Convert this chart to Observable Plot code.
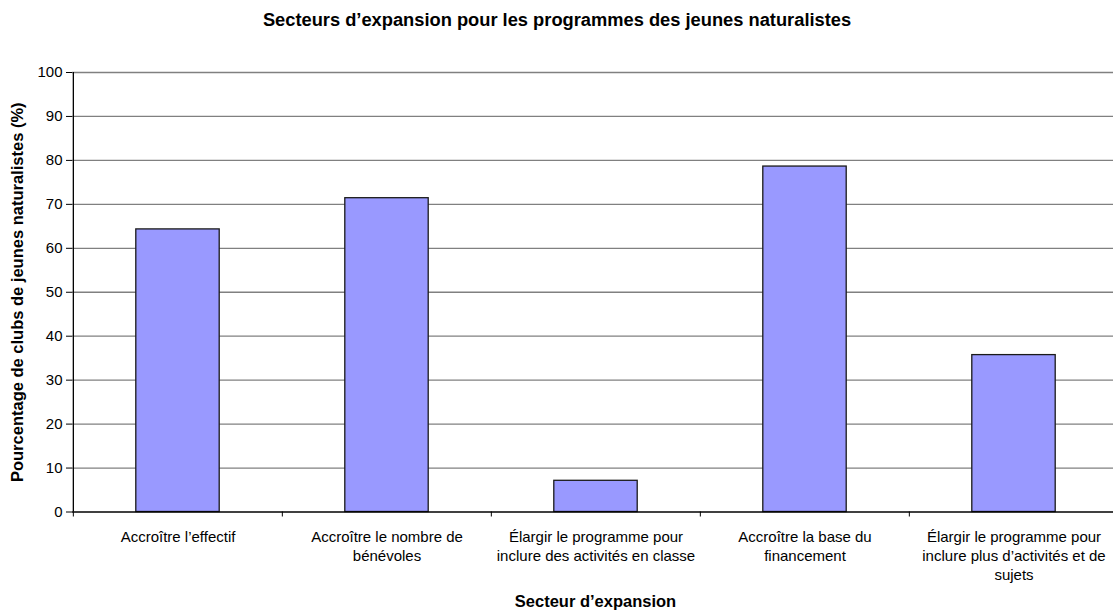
<!DOCTYPE html>
<html>
<head>
<meta charset="utf-8">
<script src="https://cdn.jsdelivr.net/npm/d3@7"></script>
<script src="https://cdn.jsdelivr.net/npm/@observablehq/plot@0.6"></script>
<style>
  html, body { margin: 0; padding: 0; background: #fff; overflow: hidden; }
  #chart svg { display: block; }
</style>
</head>
<body>
<div id="chart"></div>
<script>
const title = "Secteurs d’expansion pour les programmes des jeunes naturalistes";
const xTitle = "Secteur d’expansion";
const yTitle = "Pourcentage de clubs de jeunes naturalistes (%)";
const categories = [
  "Accroître l’effectif",
  "Accroître le nombre de bénévoles",
  "Élargir le programme pour inclure des activités en classe",
  "Accroître la base du financement",
  "Élargir le programme pour inclure plus d’activités et de sujets"
];
const tickLabels = [
  "Accroître l’effectif",
  "Accroître le nombre de\nbénévoles",
  "Élargir le programme pour\ninclure des activités en classe",
  "Accroître la base du\nfinancement",
  "Élargir le programme pour\ninclure plus d’activités et de\nsujets"
];
const values = [64.3, 71.4, 7.1, 78.6, 35.7];
const yTicks = [0, 10, 20, 30, 40, 50, 60, 70, 80, 90, 100];

const data = categories.map((c, i) => ({category: c, value: values[i]}));
const labelOf = new Map(categories.map((c, i) => [c, tickLabels[i]]));

const W = 1113, H = 612;
const xRange = [72, 1118.6];
const bw = (xRange[1] - xRange[0]) / categories.length;
const inset = bw * 0.3;

const plot = Plot.plot({
  width: W,
  height: H,
  marginTop: 72,
  marginBottom: 100.5,
  marginLeft: 72,
  marginRight: 0,
  style: {fontFamily: "'Liberation Sans', Arial, sans-serif", color: "#000", background: "#fff", overflow: "hidden"},
  x: {domain: categories, range: xRange, padding: 0, axis: null},
  y: {domain: [0, 100], axis: null},
  marks: [
    Plot.ruleY(yTicks.filter(v => v > 0), {stroke: "#808080", strokeWidth: 1.3}),
    Plot.barY(data, {x: "category", y: "value", fill: "#9999FF", stroke: "#1a1a1a", strokeWidth: 1.3, insetLeft: inset, insetRight: inset}),
    Plot.ruleY([0], {stroke: "#000", strokeWidth: 1.3}),
    Plot.ruleX([categories[0]], {dx: -bw / 2, y1: 0, y2: 100, stroke: "#000", strokeWidth: 1.3}),
    Plot.axisY({ticks: yTicks, tickSize: 6, tickPadding: 4, fontSize: 15, stroke: "#000", label: null}),
    Plot.axisX({tickSize: 5, dx: -bw / 2, tickFormat: () => "", stroke: "#000", label: null}),
    Plot.axisX({tickSize: 0, tickPadding: 16, fontSize: 15, lineHeight: 1.27, tickFormat: d => labelOf.get(d), label: null}),
    Plot.text([title], {frameAnchor: "top", lineAnchor: "middle", textAnchor: "middle", dy: -52, dx: -36, fontSize: 18.3, fontWeight: "bold", fill: "#000"}),
    Plot.text([xTitle], {frameAnchor: "bottom", lineAnchor: "middle", textAnchor: "middle", dy: 89.5, dx: 2.5, fontSize: 16.5, fontWeight: "bold", fill: "#000"}),
    Plot.text([yTitle], {frameAnchor: "left", lineAnchor: "middle", textAnchor: "middle", dx: -55, rotate: -90, fontSize: 16.5, fontWeight: "bold", fill: "#000"})
  ]
});
document.getElementById("chart").appendChild(plot);
</script>
</body>
</html>
